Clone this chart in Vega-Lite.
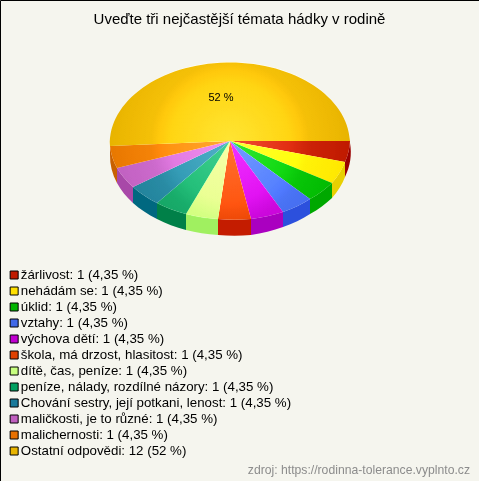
{"$schema":"https://vega.github.io/schema/vega-lite/v6.json","width":479,"height":481,"padding":0,"autosize":"none","background":"#f5f5ee","config":{"view":{"stroke":"#000000","strokeWidth":1},"font":"Liberation Sans"},"title":{"text":"Uveďte tři nejčastější témata hádky v rodině","font":"Liberation Sans","fontSize":15,"fontWeight":"normal","color":"#000000","anchor":"middle","frame":"group","offset":-27},"datasets":{"odpovedi":[{"label":"žárlivost: 1 (4,35 %)","pocet":1,"podil":"4,35 %"},{"label":"nehádám se: 1 (4,35 %)","pocet":1,"podil":"4,35 %"},{"label":"úklid: 1 (4,35 %)","pocet":1,"podil":"4,35 %"},{"label":"vztahy: 1 (4,35 %)","pocet":1,"podil":"4,35 %"},{"label":"výchova dětí: 1 (4,35 %)","pocet":1,"podil":"4,35 %"},{"label":"škola, má drzost, hlasitost: 1 (4,35 %)","pocet":1,"podil":"4,35 %"},{"label":"dítě, čas, peníze: 1 (4,35 %)","pocet":1,"podil":"4,35 %"},{"label":"peníze, nálady, rozdílné názory: 1 (4,35 %)","pocet":1,"podil":"4,35 %"},{"label":"Chování sestry, její potkani, lenost: 1 (4,35 %)","pocet":1,"podil":"4,35 %"},{"label":"maličkosti, je to různé: 1 (4,35 %)","pocet":1,"podil":"4,35 %"},{"label":"malichernosti: 1 (4,35 %)","pocet":1,"podil":"4,35 %"},{"label":"Ostatní odpovědi: 12 (52 %)","pocet":12,"podil":"52 %"}]},"layer":[{"data":{"name":"odpovedi"},"mark":{"type":"point","filled":true,"opacity":1,"size":4,"strokeWidth":0},"encoding":{"x":{"datum":230,"type":"quantitative","scale":{"domain":[0,479],"nice":false,"zero":false},"axis":null},"y":{"datum":141,"type":"quantitative","scale":{"domain":[481,0],"nice":false,"zero":false},"axis":null},"color":{"field":"label","type":"nominal","sort":null,"legend":null,"scale":{"domain":["žárlivost: 1 (4,35 %)","nehádám se: 1 (4,35 %)","úklid: 1 (4,35 %)","vztahy: 1 (4,35 %)","výchova dětí: 1 (4,35 %)","škola, má drzost, hlasitost: 1 (4,35 %)","dítě, čas, peníze: 1 (4,35 %)","peníze, nálady, rozdílné názory: 1 (4,35 %)","Chování sestry, její potkani, lenost: 1 (4,35 %)","maličkosti, je to různé: 1 (4,35 %)","malichernosti: 1 (4,35 %)","Ostatní odpovědi: 12 (52 %)"],"range":["#9a0000","#e8d000","#00a800","#2c50dd","#aa00c0","#c41c00","#a0f060","#008048","#006880","#a848a8","#c86000","#c89c00"]}},"shape":{"field":"label","type":"nominal","sort":null,"legend":null,"scale":{"domain":["žárlivost: 1 (4,35 %)","nehádám se: 1 (4,35 %)","úklid: 1 (4,35 %)","vztahy: 1 (4,35 %)","výchova dětí: 1 (4,35 %)","škola, má drzost, hlasitost: 1 (4,35 %)","dítě, čas, peníze: 1 (4,35 %)","peníze, nálady, rozdílné názory: 1 (4,35 %)","Chování sestry, její potkani, lenost: 1 (4,35 %)","maličkosti, je to různé: 1 (4,35 %)","malichernosti: 1 (4,35 %)","Ostatní odpovědi: 12 (52 %)"],"range":["M120,0A120 80 0 0 1 115,21L115,36A120 80 0 0 0 120,2Z","M115,21A120 80 0 0 1 102,42L102,57A120 80 0 0 0 115,36Z","M102,42A120 80 0 0 1 80,58L80,73A120 80 0 0 0 102,57Z","M80,58A120 80 0 0 1 53,71L53,86A120 80 0 0 0 80,73Z","M53,71A120 80 0 0 1 21,78L21,94A120 80 0 0 0 53,86Z","M21,78A120 80 0 0 1 -12,78L-12,94A120 80 0 0 0 21,94Z","M-12,78A120 80 0 0 1 -44,73L-44,89A120 80 0 0 0 -12,94Z","M-44,73A120 80 0 0 1 -73,62L-73,78A120 80 0 0 0 -44,89Z","M-73,62A120 80 0 0 1 -97,46L-97,62A120 80 0 0 0 -73,78Z","M-97,46A120 80 0 0 1 -113,27L-113,42A120 80 0 0 0 -97,62Z","M-113,27A120 80 0 0 1 -120,5L-120,14A120 80 0 0 0 -113,42Z","M-120,5L-120,6L-120,6Z"]}}}},{"data":{"name":"odpovedi"},"mark":{"type":"point","filled":true,"opacity":1,"size":4,"strokeWidth":0},"encoding":{"x":{"datum":230,"type":"quantitative"},"y":{"datum":141,"type":"quantitative"},"color":{"field":"label","type":"nominal","sort":null,"legend":null,"scale":{"domain":["žárlivost: 1 (4,35 %)","nehádám se: 1 (4,35 %)","úklid: 1 (4,35 %)","vztahy: 1 (4,35 %)","výchova dětí: 1 (4,35 %)","škola, má drzost, hlasitost: 1 (4,35 %)","dítě, čas, peníze: 1 (4,35 %)","peníze, nálady, rozdílné názory: 1 (4,35 %)","Chování sestry, její potkani, lenost: 1 (4,35 %)","maličkosti, je to různé: 1 (4,35 %)","malichernosti: 1 (4,35 %)","Ostatní odpovědi: 12 (52 %)"],"range":["#c01a00","#ffe600","#00b800","#4169e8","#c000d0","#e04000","#c8ff78","#10a060","#208098","#c060c0","#e87800","#e8b400"]}},"shape":{"field":"label","type":"nominal","sort":null,"legend":null,"scale":{"domain":["žárlivost: 1 (4,35 %)","nehádám se: 1 (4,35 %)","úklid: 1 (4,35 %)","vztahy: 1 (4,35 %)","výchova dětí: 1 (4,35 %)","škola, má drzost, hlasitost: 1 (4,35 %)","dítě, čas, peníze: 1 (4,35 %)","peníze, nálady, rozdílné názory: 1 (4,35 %)","Chování sestry, její potkani, lenost: 1 (4,35 %)","maličkosti, je to různé: 1 (4,35 %)","malichernosti: 1 (4,35 %)","Ostatní odpovědi: 12 (52 %)"],"range":["M0,0L120,0A120 80 0 0 1 115,21Z","M0,0L115,21A120 80 0 0 1 102,42Z","M0,0L102,42A120 80 0 0 1 80,58Z","M0,0L80,58A120 80 0 0 1 53,71Z","M0,0L53,71A120 80 0 0 1 21,78Z","M0,0L21,78A120 80 0 0 1 -12,78Z","M0,0L-12,78A120 80 0 0 1 -44,73Z","M0,0L-44,73A120 80 0 0 1 -73,62Z","M0,0L-73,62A120 80 0 0 1 -97,46Z","M0,0L-97,46A120 80 0 0 1 -113,27Z","M0,0L-113,27A120 80 0 0 1 -120,5Z","M0,0L-120,5A120 81 0 1 1 120,0Z"]}}}},{"data":{"values":[{"vrstva":"lesk"}]},"mark":{"type":"point","filled":true,"opacity":1,"size":4,"strokeWidth":0,"shape":"M-119,0A119 79 0 1 1 119,0A119 79 0 1 1 -119,0Z","blend":"color-dodge","fill":{"gradient":"radial","x1":0.5,"y1":0.5,"r1":0,"x2":0.5,"y2":0.5,"r2":0.5,"stops":[{"offset":0,"color":"#303030"},{"offset":0.5,"color":"#242424"},{"offset":0.66,"color":"#0e0e0e"},{"offset":1,"color":"#000000"}]}},"encoding":{"x":{"datum":230,"type":"quantitative"},"y":{"datum":141,"type":"quantitative"}}},{"data":{"values":[{"vrstva":"lesk"}]},"mark":{"type":"point","filled":true,"opacity":1,"size":4,"strokeWidth":0,"shape":"M-119,0A119 79 0 1 1 119,0A119 79 0 1 1 -119,0Z","fill":{"gradient":"radial","x1":0.5,"y1":0.5,"r1":0,"x2":0.5,"y2":0.5,"r2":0.5,"stops":[{"offset":0,"color":"rgba(255,255,255,0.2)"},{"offset":0.66,"color":"rgba(255,255,255,0.03)"},{"offset":1,"color":"rgba(255,255,255,0)"}]}},"encoding":{"x":{"datum":230,"type":"quantitative"},"y":{"datum":141,"type":"quantitative"}}},{"data":{"name":"odpovedi"},"mark":{"type":"square","filled":true,"opacity":1,"size":0,"strokeWidth":0},"encoding":{"x":{"datum":230,"type":"quantitative"},"y":{"datum":141,"type":"quantitative"},"color":{"field":"label","type":"nominal","sort":null,"scale":{"domain":["žárlivost: 1 (4,35 %)","nehádám se: 1 (4,35 %)","úklid: 1 (4,35 %)","vztahy: 1 (4,35 %)","výchova dětí: 1 (4,35 %)","škola, má drzost, hlasitost: 1 (4,35 %)","dítě, čas, peníze: 1 (4,35 %)","peníze, nálady, rozdílné názory: 1 (4,35 %)","Chování sestry, její potkani, lenost: 1 (4,35 %)","maličkosti, je to různé: 1 (4,35 %)","malichernosti: 1 (4,35 %)","Ostatní odpovědi: 12 (52 %)"],"range":["#c01a00","#ffe000","#00b400","#4169e8","#c000d0","#e04000","#c8ff80","#00a060","#1a7a9a","#c060c0","#e87000","#e8b400"]},"legend":{"orient":"none","legendX":7.5,"legendY":268,"title":null,"symbolType":"square","symbolSize":64,"symbolStrokeColor":"#000000","symbolStrokeWidth":1,"symbolOpacity":1,"labelFont":"Liberation Sans","labelFontSize":13.3,"labelColor":"#000000","rowPadding":2,"labelOffset":0,"labelLimit":400,"clipHeight":14}}}},{"data":{"name":"odpovedi"},"transform":[{"filter":"datum.pocet > 1"}],"mark":{"type":"text","font":"Liberation Sans","fontSize":11,"color":"#000000","align":"center","baseline":"middle"},"encoding":{"x":{"datum":221,"type":"quantitative"},"y":{"datum":98,"type":"quantitative"},"text":{"field":"podil","type":"nominal"}}},{"data":{"values":[{"zdroj":"zdroj: https://rodinna-tolerance.vyplnto.cz"}]},"mark":{"type":"text","font":"Liberation Sans","fontSize":12.2,"color":"#8c8c8c","align":"right","baseline":"middle"},"encoding":{"x":{"datum":470,"type":"quantitative"},"y":{"datum":470,"type":"quantitative"},"text":{"field":"zdroj","type":"nominal"}}}],"resolve":{"scale":{"shape":"independent","color":"independent"}}}
